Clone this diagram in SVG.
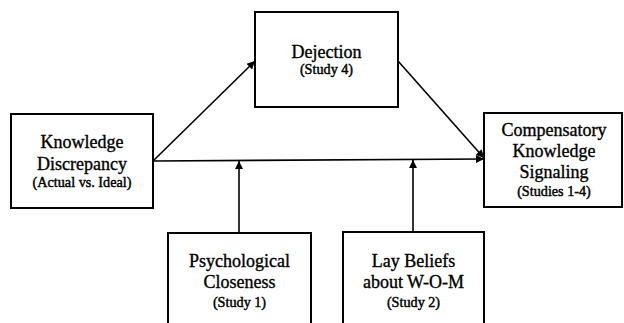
<svg xmlns="http://www.w3.org/2000/svg" width="624" height="323" viewBox="0 0 624 323">
<style>
.box{fill:#fff;stroke:#000;stroke-width:2}
.t{font-family:"Liberation Serif","Times New Roman",serif;font-size:18px;text-anchor:middle;fill:#000;stroke:#000;stroke-width:0.35}
.s{font-family:"Liberation Serif","Times New Roman",serif;font-size:14.2px;text-anchor:middle;fill:#000;stroke:#000;stroke-width:0.45}
.ln{stroke:#000;stroke-width:1.6;fill:none;marker-end:url(#ah)}
</style>
<defs>
<marker id="ah" viewBox="0 0 10 10" refX="10" refY="5" markerWidth="10" markerHeight="8" markerUnits="userSpaceOnUse" orient="auto">
<path d="M0,0 L10,5 L0,10 Z" fill="#000"/>
</marker>
</defs>
<rect width="624" height="323" fill="#fff"/>
<g id="connectors">
<line class="ln" x1="153" y1="161" x2="255" y2="61"/>
<line class="ln" x1="398" y1="61" x2="484" y2="158"/>
<line class="ln" x1="153" y1="161" x2="484" y2="159"/>
<line class="ln" x1="239" y1="233" x2="239" y2="161"/>
<line class="ln" x1="413" y1="232" x2="413" y2="160"/>
</g>
<g id="knowledge-discrepancy">
<rect class="box" x="11" y="114" width="142" height="94"/>
<text class="t" x="82" y="148">Knowledge</text>
<text class="t" x="82" y="170">Discrepancy</text>
<text class="s" x="82" y="187">(Actual vs. Ideal)</text>
</g>
<g id="dejection">
<rect class="box" x="255" y="12" width="143" height="95"/>
<text class="t" x="326.5" y="58">Dejection</text>
<text class="s" x="326.5" y="74">(Study 4)</text>
</g>
<g id="compensatory">
<rect class="box" x="484" y="113" width="138" height="94"/>
<text class="t" x="554" y="136">Compensatory</text>
<text class="t" x="554" y="157">Knowledge</text>
<text class="t" x="554" y="178">Signaling</text>
<text class="s" x="554" y="196">(Studies 1-4)</text>
</g>
<g id="psychological-closeness">
<rect class="box" x="168" y="233" width="143" height="100"/>
<text class="t" x="239.5" y="267">Psychological</text>
<text class="t" x="239.5" y="288">Closeness</text>
<text class="s" x="239.5" y="307">(Study 1)</text>
</g>
<g id="lay-beliefs">
<rect class="box" x="343" y="232" width="141" height="101"/>
<text class="t" x="413.5" y="267">Lay Beliefs</text>
<text class="t" x="413.5" y="288">about W-O-M</text>
<text class="s" x="413.5" y="307">(Study 2)</text>
</g>
</svg>
